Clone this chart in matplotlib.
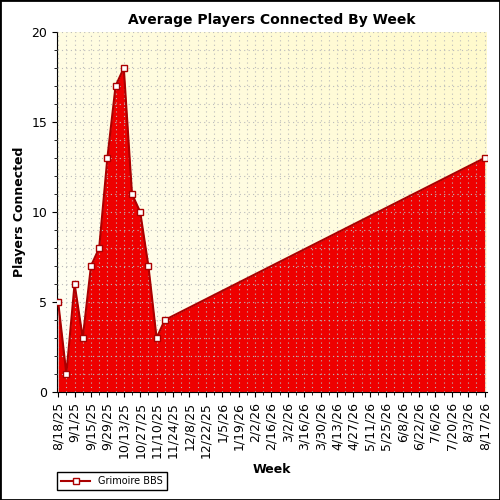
import matplotlib
matplotlib.use("Agg")
import matplotlib.pyplot as plt
import matplotlib.dates as mdates
import numpy as np
import datetime as dt

dates = ["2025-08-18", "2025-08-25", "2025-09-01", "2025-09-08", "2025-09-15",
         "2025-09-22", "2025-09-29", "2025-10-06", "2025-10-13", "2025-10-20",
         "2025-10-27", "2025-11-03", "2025-11-10", "2025-11-17", "2026-08-17"]
players = [5, 1, 6, 3, 7, 8, 13, 17, 18, 11, 10, 7, 3, 4, 13]
series_name = "Grimoire BBS"

x = [dt.datetime.strptime(d, "%Y-%m-%d") for d in dates]
start = x[0]
ticks = [start + dt.timedelta(weeks=2 * i) for i in range(27)]
weeks = [start + dt.timedelta(weeks=i) for i in range(53)]

fig = plt.figure(figsize=(5, 5), dpi=100)
ax = fig.add_axes([0.114, 0.216, 0.86, 0.72])

# background gradient
grad = np.linspace(0, 1, 256)
gx, gy = np.meshgrid(grad, grad)
t = (gx + gy) / 2
c0 = np.array([1.0, 1.0, 0.97])
c1 = np.array([1.0, 0.98, 0.80])
img = c0 + (c1 - c0) * t[..., None]
ax.imshow(img, extent=[0, 1, 0, 1], transform=ax.transAxes, origin="lower",
          aspect="auto", zorder=0)

ax.fill_between(x, players, 0, color="#EE0000", zorder=2, linewidth=0)
ax.plot(x, players, color="#AA0000", lw=1.5, marker="s", markersize=5,
        markerfacecolor="white", markeredgecolor="#AA0000", zorder=3,
        label=series_name)

ax.set_xlim(start - dt.timedelta(days=1), x[-1] + dt.timedelta(days=2))
ax.set_ylim(0, 20)
ax.set_yticks([0, 5, 10, 15, 20])
ax.set_yticks(range(21), minor=True)
ax.set_xticks(ticks)
ax.set_xticks(weeks, minor=True)
ax.set_xticklabels([f"{d.month}/{d.day}/{d.year % 100}" for d in ticks],
                   rotation=90, fontsize=9)
ax.tick_params(axis="y", labelsize=9)
ax.grid(True, which="both", color="#BBBBBB", linestyle=(0, (1, 3)), lw=0.8, zorder=1)
ax.set_axisbelow(False)
for s in ["top", "right"]:
    ax.spines[s].set_visible(False)

ax.set_title("Average Players Connected By Week", fontsize=10, fontweight="bold")
ax.set_xlabel("Week", fontsize=9, fontweight="bold")
ax.set_ylabel("Players Connected", fontsize=9, fontweight="bold")

fig.legend(loc="lower left", bbox_to_anchor=(0.105, 0.01), fontsize=7,
           fancybox=False, edgecolor="black", framealpha=1, handlelength=3)

border = plt.Rectangle((0, 0), 1, 1, transform=fig.transFigure, fill=False,
                       edgecolor="black", lw=2)
fig.patches.append(border)
fig.savefig("out.png")
